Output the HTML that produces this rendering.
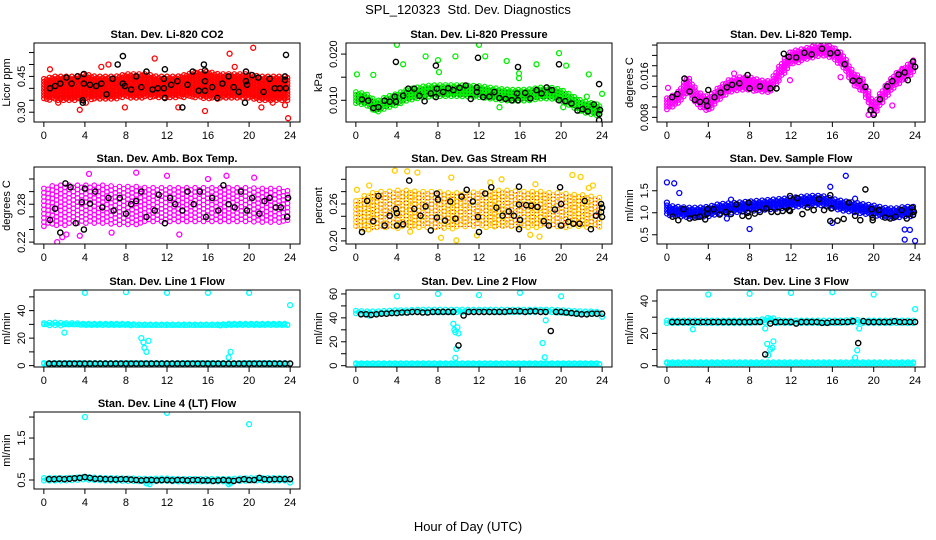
<!DOCTYPE html>
<html><head><meta charset="utf-8"><title>SPL_120323 Std. Dev. Diagnostics</title>
<style>
html,body{margin:0;padding:0;background:#fff;}
svg{display:block;font-family:"Liberation Sans",sans-serif;}
</style></head>
<body>
<svg id="chart" width="936" height="540" viewBox="0 0 936 540" xmlns="http://www.w3.org/2000/svg">
<text x="468" y="14" text-anchor="middle" font-size="13">SPL_120323&#160; Std. Dev. Diagnostics</text>
<text x="468" y="531" text-anchor="middle" font-size="13">Hour of Day (UTC)</text>
</svg>
<script>
// ---------- data ----------
const xTicks = [0,4,8,12,16,20,24];
const bandHours = [0,1,2,3,4,5,6,7,8,9,10,11,12,13,14,15,16,17,18,19,20,21,22,23,24];
const lineHours = [0.5,1,1.5,2,2.5,3,3.5,4,4.5,5,5.5,6,6.5,7,7.5,8,8.5,9,9.5,10,10.5,11,11.5,12,12.5,13,13.5,14,14.5,15,15.5,16,16.5,17,17.5,18,18.5,19,19.5,20,20.5,21,21.5,22,22.5,23,23.5,24];

// P1 CO2
const co2Lo = [0.35,0.35,0.35,0.35,0.35,0.355,0.355,0.355,0.36,0.36,0.36,0.36,0.36,0.36,0.36,0.36,0.355,0.355,0.355,0.355,0.355,0.35,0.35,0.35,0.35];
const co2Hi = [0.44,0.45,0.45,0.45,0.46,0.45,0.45,0.45,0.46,0.46,0.46,0.45,0.45,0.45,0.46,0.47,0.47,0.46,0.46,0.46,0.46,0.45,0.45,0.45,0.45];
const co2BlackH = [0.6,1.1,1.6,2.2,2.7,3.3,3.8,3.8,3.9,3.9,4.5,5.1,5.6,6.1,6.7,7.2,7.7,7.7,7.9,8.5,9,9.5,10,10.6,11.1,11.7,11.7,11.8,11.8,12.4,13,13.5,14,14.5,15.1,15.6,15.7,15.7,15.7,16.4,16.9,17.4,18,18.5,19,19.6,19.7,19.7,19.8,20.3,20.9,21.4,22,22.5,23,23.5,23.5,23.6,23.6];
const co2BlackV = [0.40,0.41,0.42,0.445,0.42,0.45,0.35,0.34,0.46,0.42,0.415,0.41,0.42,0.375,0.44,0.50,0.535,0.42,0.41,0.395,0.45,0.405,0.47,0.395,0.40,0.40,0.44,0.36,0.48,0.415,0.43,0.32,0.415,0.47,0.39,0.50,0.475,0.43,0.39,0.405,0.36,0.42,0.45,0.405,0.385,0.34,0.43,0.47,0.415,0.455,0.445,0.385,0.44,0.40,0.40,0.45,0.435,0.54,0.40];
const co2OutH = [0.6,1.4,3.5,5.6,6.3,7.9,10.8,13.1,15.7,18.1,20.4,21.2,22.3,23.5,23.8,4.1,18.6];
const co2OutV = [0.48,0.34,0.31,0.49,0.50,0.32,0.525,0.32,0.305,0.545,0.57,0.32,0.34,0.33,0.275,0.34,0.49];

// P2 Pressure
const prsLo = [0.0092,0.0088,0.0072,0.0082,0.0088,0.0098,0.0102,0.0105,0.0107,0.0107,0.0107,0.0106,0.0105,0.0102,0.0099,0.0097,0.0097,0.0098,0.0102,0.0102,0.0097,0.0085,0.0073,0.0068,0.0063];
const prsHi = [0.0118,0.0114,0.0098,0.0108,0.0114,0.0124,0.0128,0.0132,0.0133,0.0133,0.0133,0.0132,0.0131,0.0128,0.0125,0.0123,0.0123,0.0124,0.0128,0.0128,0.0123,0.0111,0.0099,0.0094,0.0089];
const prsBlackH = [0.6,1.2,1.7,2.2,2.8,3.3,3.8,3.9,3.9,4.6,5.1,5.7,6.2,6.7,7.3,7.8,7.8,7.9,8.5,9,9.5,10.1,10.7,11.2,11.8,11.9,11.8,12.4,13,13.5,14,14.6,15.2,15.7,15.8,15.8,16.5,17,17.6,18.1,18.6,19.1,19.8,19.8,20.4,21,21.6,22.1,22.6,23.2,23.7,23.8,23.7,23.7];
const prsBlackV = [0.0102,0.0099,0.0083,0.0085,0.0099,0.0097,0.0108,0.0097,0.0183,0.011,0.0125,0.0125,0.011,0.0098,0.0115,0.0175,0.0107,0.0125,0.0118,0.0126,0.0122,0.0127,0.0132,0.0103,0.0128,0.0192,0.0118,0.0107,0.0108,0.0118,0.0105,0.0103,0.010,0.0115,0.0172,0.010,0.0116,0.0104,0.0122,0.0115,0.0128,0.0122,0.010,0.0178,0.0098,0.0093,0.0078,0.0081,0.0076,0.0091,0.0135,0.0079,0.007,0.0057];
const prsOutH = [0.1,1.7,4,4.6,6.8,8,8.1,9.7,12,12.6,14.7,15.9,15.9,17.6,19.8,20.5,22.7,22.5,24,20.2,14];
const prsOutV = [0.0156,0.0155,0.022,0.0178,0.0195,0.0187,0.0161,0.0195,0.022,0.0195,0.0185,0.0158,0.0148,0.0178,0.0202,0.0175,0.0156,0.0108,0.0114,0.0085,0.0085];

// P3 Li-820 Temp
const tmpLo = [0.0093,0.0103,0.0128,0.0101,0.0091,0.0112,0.0127,0.0132,0.0132,0.0128,0.0126,0.0156,0.0182,0.0188,0.0193,0.0198,0.0193,0.0177,0.0142,0.0127,0.0082,0.0112,0.0137,0.0152,0.0167];
const tmpHi = [0.0117,0.0127,0.0160,0.0129,0.0119,0.0138,0.0153,0.0158,0.0158,0.0152,0.0150,0.0184,0.0208,0.0212,0.0217,0.0222,0.0217,0.0203,0.0168,0.0153,0.0108,0.0138,0.0163,0.0178,0.0193];
const tmpBlackH = [0.5,1,1.7,2.2,2.7,3.2,3.8,3.9,4,4.6,5.2,5.8,6.3,7,7.8,8,9,10,10.6,11.3,11.8,12.5,13.3,14,15,15.8,16.5,17.2,18,18.6,19.2,19.7,20,20.6,21.3,21.8,22.4,23,23.3,23.8,24];
const tmpBlackV = [0.0119,0.0125,0.0155,0.013,0.0114,0.011,0.0112,0.0102,0.0133,0.0119,0.0128,0.0138,0.0143,0.0146,0.0162,0.0136,0.014,0.0136,0.0136,0.0203,0.0197,0.0196,0.0205,0.0202,0.0213,0.0204,0.0205,0.0183,0.0151,0.0151,0.0139,0.0094,0.0085,0.0115,0.014,0.015,0.0163,0.0167,0.0152,0.0188,0.0178];
const tmpOutH = [0.1,6.5,11.9,16.8,21.8,22.8,19.5];
const tmpOutV = [0.0137,0.0165,0.0152,0.0158,0.0103,0.0172,0.0085];

// P4 Amb box temp
const ambLo = [0.245,0.245,0.245,0.248,0.248,0.248,0.248,0.248,0.248,0.248,0.25,0.25,0.25,0.25,0.25,0.25,0.25,0.25,0.25,0.25,0.25,0.25,0.25,0.25,0.25];
const ambHi = [0.305,0.31,0.31,0.31,0.31,0.31,0.31,0.308,0.308,0.308,0.306,0.306,0.306,0.306,0.306,0.306,0.306,0.306,0.306,0.306,0.306,0.305,0.305,0.305,0.30];
const ambBlackH = [0.6,1.1,1.6,2.1,2.6,3.1,3.7,3.9,4.0,4.5,5.0,5.7,6.3,6.8,7.4,8,8.5,9,9.5,10,10.8,11.2,11.8,12.3,12.8,13.5,14,14.6,15.2,15.8,16.4,17,17.5,18,18.6,19.2,19.8,20.3,21,21.5,22,22.6,23.1,23.7,23.8];
const ambBlackV = [0.255,0.273,0.235,0.313,0.307,0.25,0.283,0.24,0.305,0.281,0.30,0.275,0.29,0.27,0.29,0.265,0.28,0.285,0.30,0.26,0.27,0.295,0.25,0.29,0.28,0.27,0.30,0.28,0.30,0.26,0.29,0.27,0.31,0.28,0.275,0.30,0.27,0.29,0.265,0.285,0.29,0.275,0.275,0.26,0.29];
const ambOutH = [1.3,1.8,3.5,16,17.8,9,12,4.4,2.2,6.6,13.2,20.5];
const ambOutV = [0.22,0.228,0.23,0.32,0.325,0.33,0.325,0.328,0.232,0.235,0.232,0.322];

// P5 Gas stream RH
const rhLo = [0.22,0.218,0.218,0.22,0.22,0.222,0.222,0.222,0.22,0.22,0.22,0.222,0.222,0.222,0.222,0.222,0.222,0.222,0.222,0.222,0.222,0.222,0.222,0.222,0.222];
const rhHi = [0.265,0.275,0.28,0.28,0.282,0.282,0.28,0.28,0.28,0.278,0.278,0.278,0.28,0.28,0.282,0.282,0.28,0.28,0.28,0.278,0.278,0.275,0.275,0.272,0.27];
const rhBlackH = [0.6,1.1,1.7,2.2,2.8,3.3,3.9,4,4,4.6,5.2,5.7,6.3,6.8,7.3,7.9,8,7.9,8.7,9.2,9.7,10.3,10.8,11.4,11.9,12,12.6,13.2,13.7,14.3,14.9,15.4,15.9,15.9,16,15.9,16.6,17.1,17.7,18.3,18.8,19.4,19.9,20,20,20.7,21.2,21.8,22.3,22.9,23.4,23.9,24,24,23.9];
const rhBlackV = [0.2145,0.265,0.232,0.273,0.225,0.241,0.252,0.245,0.225,0.227,0.298,0.252,0.241,0.256,0.217,0.277,0.267,0.238,0.233,0.264,0.236,0.272,0.283,0.264,0.239,0.2145,0.277,0.287,0.254,0.241,0.248,0.241,0.288,0.259,0.234,0.219,0.258,0.257,0.255,0.232,0.225,0.251,0.287,0.26,0.225,0.231,0.228,0.228,0.265,0.219,0.241,0.26,0.254,0.239,0.247];
const rhOutH = [3.8,5,6,9.3,14.2,21.1,21.9,9.8,8.3,11.8,17,17.9,5.3,0.1,1.3,13.1,22.7,23.1,17.5];
const rhOutV = [0.314,0.313,0.311,0.303,0.30,0.307,0.304,0.201,0.205,0.209,0.21,0.207,0.215,0.283,0.29,0.295,0.286,0.29,0.292];

// P6 Sample flow
const sfLo = [0.93,0.9,0.88,0.88,0.9,0.96,0.98,1.0,1.02,1.04,1.06,1.08,1.1,1.13,1.15,1.15,1.08,1.03,1.0,0.96,0.93,0.88,0.86,0.9,0.9];
const sfHi = [1.17,1.14,1.12,1.12,1.14,1.2,1.22,1.24,1.26,1.28,1.3,1.32,1.34,1.37,1.39,1.39,1.32,1.27,1.24,1.2,1.17,1.12,1.1,1.14,1.14];
const sfBlackH = [0.55,1.1,1.6,2.2,2.7,3.2,3.7,3.9,3.9,4.5,5.1,5.7,6.2,6.7,7.3,7.8,7.9,7.9,8.5,9,9.6,10.1,10.7,11.2,11.8,11.9,11.9,12.6,13.1,13.6,14.2,14.7,15.2,15.8,15.8,15.9,16.5,17.1,17.6,18.2,18.7,19.2,19.8,19.9,19.9,20.5,21.1,21.6,22.1,22.7,23.2,23.7,23.8,23.9];
const sfBlackV = [0.91,0.83,1.08,0.87,0.89,0.91,0.85,0.98,1.08,1.08,0.96,1.02,0.97,1.19,0.93,1.0,1.23,0.92,0.98,1.02,1.10,1.02,1.02,1.04,1.06,1.38,1.04,1.33,0.97,1.12,1.06,1.31,1.06,1.40,0.81,1.10,0.82,0.86,1.23,0.93,0.83,1.53,1.08,0.83,0.89,1.06,0.89,0.87,0.91,1.06,0.87,1.12,0.95,1.02];
const sfOutH = [0,0.7,1.2,0,5.8,8,15.8,17.3,23,23,23.5,24,16,6.2,18.2];
const sfOutV = [1.69,1.67,1.45,1.23,0.87,0.63,1.59,1.84,0.62,0.39,0.61,0.36,0.77,1.3,1.32];

// P7 Line 1 flow
const l1HighLo = [29,29,29,29,29,29,29,29,29,29,29,29,29,29,29,29,29,29,29,29,29,29,29,29,29];
const l1HighHi = [31,31.5,31,31,30.5,30.5,30.5,30.5,30.5,30,30,30,30,30,30,30,30,30,30.5,30.5,30.5,30.5,30.5,30.5,30.5];
const l1BlackV = [1.5,1.5,1.5,1.5,1.5,1.5,1.5,1.5,1.5,1.5,1.5,1.5,1.5,1.5,1.5,1.5,1.5,1.5,1.5,1.5,1.5,1.5,1.5,1.5,1.5,1.5,1.5,1.5,1.5,1.5,1.5,1.5,1.5,1.5,1.5,1.5,1.5,1.5,1.5,1.5,1.5,1.5,1.5,1.5,1.5,1.5,1.5,1.5];
const l1OutH = [4,8,12,16,20,24,2,9.5,9.7,9.8,10,10.2,18.2,18];
const l1OutV = [53,53.5,53,53,53,44,24,20,17,13,10,18,10,6];

// P8 Line 2 flow
const l2HighLo = [43,42.5,42.5,43,43.5,43.5,44,44,44,44,44,44,44,44,44,44,44,44,44,44,43.5,43,42.5,42.5,42];
const l2HighHi = [46,45.5,45.5,46,46.5,46.5,47,47,47,47,47,47,47,47,47,47,47,47,47,47,46.5,46,45.5,45.5,45];
const l2BlackV = [43,43,42.5,43,43.5,43.5,44,44,44.5,44.5,45,45,44.5,44.5,45,45,45,45,45,17,42,45,45,45,45,45,45,45,45,45.5,45.5,45.5,45,45.5,45.5,45,45,29,45,45,44.5,44,43.5,43,43,43.5,43.5,43.5];
const l2OutH = [4,8,12,16,20,24,1.3,9.5,9.6,9.7,9.9,10,9.8,9.7,18.2,18.4,18.5];
const l2OutV = [58,60,59,61,58,41,42,35,30,28,32,27,14,6.5,19,7,38];

// P9 Line 3 flow
const l3HighLo = [26,26,26,26,26,26,26,26,26,26,26.5,26,26,26,26,26,26,26,26,26,26,26,26,26,26];
const l3HighHi = [28,28,28,28,28,28,28,28,28,28.5,30,28,28,28,28,28,28,28,28.5,28,28,28,28,28,28];
const l3BlackV = [27,27,27,27,27,27,27,27,27,27,27,27,27,27,27,27,27,27,7,26,27,27,27,27,26,27,27,27,27,26.5,26.5,27,27,27,27,27.5,14,27.5,27,27,27,27,27,27.5,27,27,27,27];
const l3OutH = [4,8,12,16,20,24,2.5,9.5,9.7,10,10.2,10.3,9.8,18.2,18.4,18.6];
const l3OutV = [44,44.5,45,45.5,44,35,22.5,23,13.5,10,11,15,6.5,5,9.5,23];

// P10 Line 4 (LT) flow
const l4HighLo = [0.46,0.47,0.47,0.48,0.49,0.48,0.47,0.47,0.47,0.46,0.44,0.46,0.46,0.46,0.46,0.46,0.46,0.46,0.45,0.46,0.47,0.47,0.47,0.47,0.47];
const l4HighHi = [0.55,0.55,0.55,0.56,0.58,0.56,0.55,0.55,0.54,0.54,0.53,0.54,0.54,0.53,0.53,0.53,0.53,0.53,0.53,0.54,0.55,0.55,0.55,0.55,0.55];
const l4BlackV = [0.52,0.52,0.53,0.52,0.53,0.54,0.55,0.57,0.55,0.53,0.53,0.52,0.52,0.51,0.52,0.52,0.51,0.50,0.49,0.50,0.50,0.49,0.50,0.50,0.49,0.50,0.50,0.49,0.50,0.50,0.49,0.49,0.48,0.49,0.50,0.49,0.48,0.50,0.52,0.50,0.50,0.55,0.52,0.51,0.52,0.52,0.52,0.52];
const l4OutH = [4,12,20,10,10.3,18,18.2,24];
const l4OutV = [2.0,2.1,1.83,0.42,0.4,0.4,0.43,0.44];

// ---------- layout ----------
const colL = [34,346,657], colR = [300,612,925];
const rowT = [43,167,290,412], rowB = [122,244,367,489];
const NS = "http://www.w3.org/2000/svg";
const svg = document.getElementById('chart');

function mk(tag, attrs, parent){
  const e = document.createElementNS(NS, tag);
  for (const k in attrs) e.setAttribute(k, attrs[k]);
  (parent||svg).appendChild(e);
  return e;
}
function interp(hs, vs, h){
  if (h <= hs[0]) return vs[0];
  for (let i=1;i<hs.length;i++){ if (h<=hs[i]){ const t=(h-hs[i-1])/(hs[i]-hs[i-1]); return vs[i-1]+t*(vs[i]-vs[i-1]); } }
  return vs[vs.length-1];
}

function panel(p){
  const L=colL[p.col], R=colR[p.col], T=rowT[p.row], B=rowB[p.row];
  const xs = h => L + (h+0.96)/25.92*(R-L);
  const ys = v => B - (v-p.ylim[0])/(p.ylim[1]-p.ylim[0])*(B-T);
  const sp = p.spacing || 2.8;
  const g = mk('g', {});
  
  
  const clip = mk('clipPath', {id:'c'+p.name}, g);
  mk('rect', {x:L, y:T, width:R-L, height:B-T}, clip);
  const plot = mk('g', {'clip-path':'url(#c'+p.name+')'}, g);
  p.bands.forEach(b=>{
    const bg = mk('g', {fill:'none', stroke:p.color, 'stroke-width':1.2}, plot);
    
    
    let k=0;
    for (let px = xs(0); px <= xs(24); px += sp, k++){
      const h = (px-L)/(R-L)*25.92-0.96;
      const y1 = ys(interp(b.h,b.hi,h)), y2 = ys(interp(b.h,b.lo,h));
      const off = (k%2)*sp/2;
      for (let py = y1+off; py <= y2+0.01; py += sp){
        mk('circle', {cx:px.toFixed(1), cy:py.toFixed(1), r:2.3}, bg);
      }
      if (y2-y1 < sp) mk('circle', {cx:px.toFixed(1), cy:((y1+y2)/2).toFixed(1), r:2.3}, bg);
    }
    if (p.dot){
      const dg = mk('g', {fill:p.dot}, plot);
      
      
      for (let px = xs(0); px <= xs(24); px += 3.2){
        const h = (px-L)/(R-L)*25.92-0.96;
        const y1 = ys(interp(b.h,b.hi,h)), y2 = ys(interp(b.h,b.lo,h));
        for (let py = y1+1; py <= y2; py += 3.2) mk('rect', {x:px.toFixed(1), y:py.toFixed(1), width:1, height:1}, dg);
      }
    }
  });
  const og = mk('g', {fill:'none', stroke:p.color, 'stroke-width':1.3}, plot);
  p.outH.forEach((h,i)=>{
    const c = mk('circle', {cx:xs(h).toFixed(1), cy:ys(p.outV[i]).toFixed(1), r:2.5}, og);
    
    
  });
  const kg = mk('g', {fill:'none', stroke:'#000', 'stroke-width':1.4}, plot);
  p.blackH.forEach((h,i)=>{
    const c = mk('circle', {cx:xs(h).toFixed(1), cy:ys(p.blackV[i]).toFixed(1), r:2.6}, kg);
    
    
  });
  const box = mk('rect', {x:L, y:T, width:R-L, height:B-T, fill:'none', stroke:'#000', 'stroke-width':1}, g);
  
  
  const tt = mk('text', {x:(L+R)/2, y:T-5, 'text-anchor':'middle', 'font-size':11, 'font-weight':'bold'}, g);
  tt.textContent = p.title;
  
  
  const xa = mk('g', {stroke:'#000', 'stroke-width':1}, g);
  
  
  mk('line', {x1:xs(0), x2:xs(24), y1:B, y2:B}, xa);
  xTicks.forEach(t=>{
    mk('line', {x1:xs(t), x2:xs(t), y1:B, y2:B+5}, xa);
    const lb = mk('text', {x:xs(t), y:B+17, 'text-anchor':'middle', 'font-size':11}, g);
    lb.textContent = String(t);
    
    
  });
  const ya = mk('g', {stroke:'#000', 'stroke-width':1}, g);
  
  
  mk('line', {x1:L, x2:L, y1:ys(p.yticks[0]), y2:ys(p.yticks[p.yticks.length-1])}, ya);
  p.yticks.forEach(t=>{
    mk('line', {x1:L-5, x2:L, y1:ys(t), y2:ys(t)}, ya);
  });
  p.ylabels.forEach(t=>{
    const x = L-9, y = ys(t);
    const lb = mk('text', {x:x, y:y, 'text-anchor':'middle', 'font-size':11, transform:'rotate(-90 '+x+' '+y+')'}, g);
    lb.textContent = p.fmt(t);
    
    
  });
  const yx = L-24, yy = (T+B)/2;
  const yl = mk('text', {x:yx, y:yy, 'text-anchor':'middle', 'font-size':11, transform:'rotate(-90 '+yx+' '+yy+')'}, g);
  yl.textContent = p.ylab;
  
  
}

const f2 = v=>v.toFixed(2), f3 = v=>v.toFixed(3), f1 = v=>v.toFixed(1), f0 = v=>v.toFixed(0);
const C = '#00ffff';

panel({name:'co2-panel', col:0,row:0,title:'Stan. Dev. Li-820 CO2',ylab:'Licor ppm',ylim:[0.259,0.59],yticks:[0.30,0.35,0.40,0.45,0.50,0.55],ylabels:[0.30,0.45],fmt:f2,color:'#ff0000',
  bands:[{h:bandHours,lo:co2Lo,hi:co2Hi}],blackH:co2BlackH,blackV:co2BlackV,outH:co2OutH,outV:co2OutV});
panel({name:'pressure-panel', col:1,row:0,title:'Stan. Dev. Li-820 Pressure',ylab:'kPa',ylim:[0.0053,0.0224],yticks:[0.010,0.015,0.020],ylabels:[0.010,0.020],fmt:f3,color:'#00ee00',dot:'#004400',
  bands:[{h:bandHours,lo:prsLo,hi:prsHi}],blackH:prsBlackH,blackV:prsBlackV,outH:prsOutH,outV:prsOutV});
panel({name:'li820-temp-panel', col:2,row:0,title:'Stan. Dev. Li-820 Temp.',ylab:'degrees C',ylim:[0.0071,0.0224],yticks:[0.008,0.010,0.012,0.014,0.016,0.018,0.020,0.022],ylabels:[0.008,0.016],fmt:f3,color:'#ff00ff',
  bands:[{h:bandHours,lo:tmpLo,hi:tmpHi}],blackH:tmpBlackH,blackV:tmpBlackV,outH:tmpOutH,outV:tmpOutV});
panel({name:'amb-box-temp-panel', col:0,row:1,title:'Stan. Dev. Amb. Box Temp.',ylab:'degrees C',ylim:[0.217,0.339],yticks:[0.22,0.24,0.26,0.28,0.30,0.32],ylabels:[0.22,0.28],fmt:f2,color:'#ff00ff',spacing:4.2,
  bands:[{h:bandHours,lo:ambLo,hi:ambHi}],blackH:ambBlackH,blackV:ambBlackV,outH:ambOutH,outV:ambOutV});
panel({name:'gas-stream-rh-panel', col:1,row:1,title:'Stan. Dev. Gas Stream RH',ylab:'percent',ylim:[0.195,0.32],yticks:[0.20,0.22,0.24,0.26,0.28,0.30],ylabels:[0.20,0.26],fmt:f2,color:'#ffcc00',dot:'#ff0000',spacing:4.2,
  bands:[{h:bandHours,lo:rhLo,hi:rhHi}],blackH:rhBlackH,blackV:rhBlackV,outH:rhOutH,outV:rhOutV});
panel({name:'sample-flow-panel', col:2,row:1,title:'Stan. Dev. Sample Flow',ylab:'ml/min',ylim:[0.29,2.04],yticks:[0.5,1.0,1.5],ylabels:[0.5,1.0,1.5],fmt:f1,color:'#0000ff',
  bands:[{h:bandHours,lo:sfLo,hi:sfHi}],blackH:sfBlackH,blackV:sfBlackV,outH:sfOutH,outV:sfOutV});
panel({name:'line1-flow-panel', col:0,row:2,title:'Stan. Dev. Line 1 Flow',ylab:'ml/min',ylim:[-1,55],yticks:[0,10,20,30,40,50],ylabels:[0,20,40],fmt:f0,color:C,
  bands:[{h:bandHours,lo:l1HighLo,hi:l1HighHi},{h:[0,24],lo:[0.8,0.8],hi:[2,2]}],blackH:lineHours,blackV:l1BlackV,outH:l1OutH,outV:l1OutV});
panel({name:'line2-flow-panel', col:1,row:2,title:'Stan. Dev. Line 2 Flow',ylab:'ml/min',ylim:[-1.1,63.3],yticks:[0,10,20,30,40,50,60],ylabels:[0,20,40,60],fmt:f0,color:C,
  bands:[{h:bandHours,lo:l2HighLo,hi:l2HighHi},{h:[0,24],lo:[0.8,0.8],hi:[2.2,2.2]}],blackH:lineHours,blackV:l2BlackV,outH:l2OutH,outV:l2OutV});
panel({name:'line3-flow-panel', col:2,row:2,title:'Stan. Dev. Line 3 Flow',ylab:'ml/min',ylim:[-0.8,46.8],yticks:[0,10,20,30,40],ylabels:[0,20,40],fmt:f0,color:C,
  bands:[{h:bandHours,lo:l3HighLo,hi:l3HighHi},{h:[0,24],lo:[0.8,0.8],hi:[2.2,2.2]}],blackH:lineHours,blackV:l3BlackV,outH:l3OutH,outV:l3OutV});
panel({name:'line4-flow-panel', col:0,row:3,title:'Stan. Dev. Line 4 (LT) Flow',ylab:'ml/min',ylim:[0.286,2.12],yticks:[0.5,1.0,1.5,2.0],ylabels:[0.5,1.5],fmt:f1,color:C,
  bands:[{h:bandHours,lo:l4HighLo,hi:l4HighHi}],blackH:lineHours,blackV:l4BlackV,outH:l4OutH,outV:l4OutV});
</script>
</body></html>
